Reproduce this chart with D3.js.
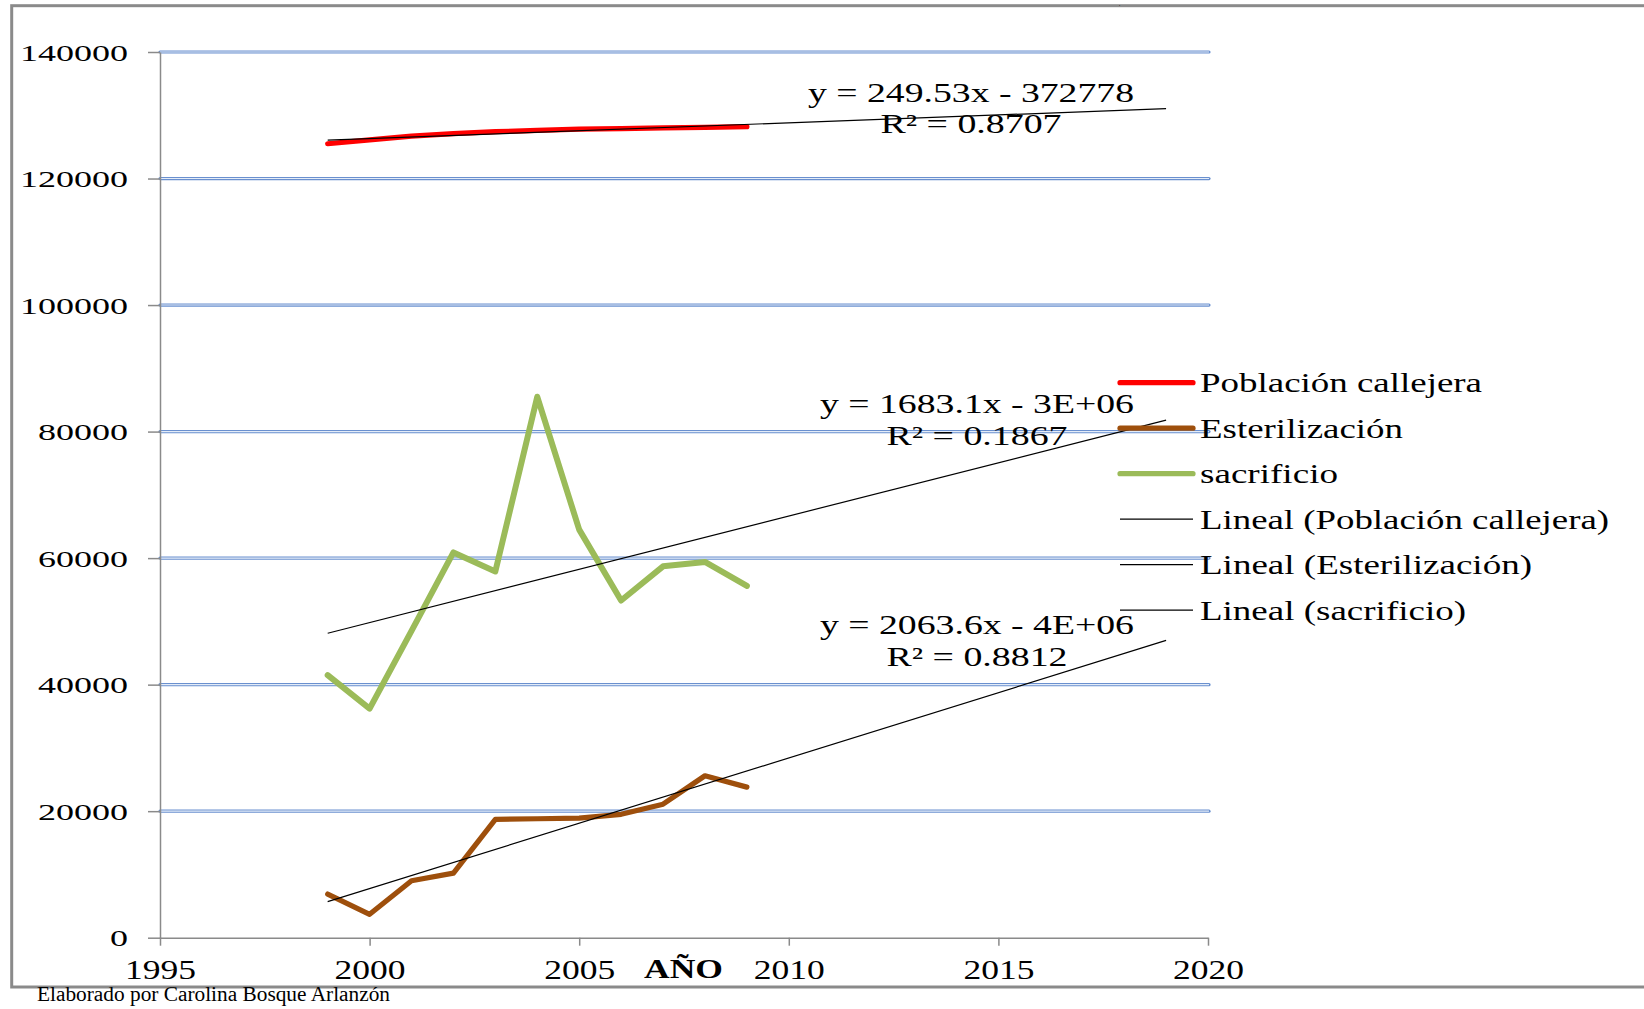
<!DOCTYPE html>
<html>
<head>
<meta charset="utf-8">
<script src="https://cdn.jsdelivr.net/npm/d3@7"></script>
<style>
  body { margin: 0; background: #fff; }
  svg { display: block; }
  text { font-family: "Liberation Serif", "DejaVu Serif", serif; fill: #000; }
</style>
</head>
<body>
<svg id="chart" width="1644" height="1009"></svg>
<script>
// data
const years = [1999, 2000, 2001, 2002, 2003, 2004, 2005, 2006, 2007, 2008, 2009]
const poblacion = [125500, 126100, 126700, 127100, 127400, 127600, 127800, 127900, 128000, 128100, 128200]
const esterilizacion = [6900, 3700, 9000, 10200, 18700, 18800, 18900, 19500, 21100, 25600, 23800]
const sacrificio = [41500, 36200, 48500, 60900, 57900, 85500, 64500, 53300, 58700, 59400, 55600]

const seriesNames = ["Población callejera", "Esterilización", "sacrificio"]
const seriesColors = ["#ff0000", "#9e4f0c", "#9bbb59"]
const trendNames = ["Lineal (Población callejera)", "Lineal (Esterilización)", "Lineal (sacrificio)"]
const trendEq = ["y = 249.53x - 372778", "y = 1683.1x - 3E+06", "y = 2063.6x - 4E+06"]
const trendR2 = ["R² = 0.8707", "R² = 0.1867", "R² = 0.8812"]

const yTicks = [0, 20000, 40000, 60000, 80000, 100000, 120000, 140000]
const xTicks = [1995, 2000, 2005, 2010, 2015, 2020]

const svg = d3.select("#chart")

// outer frame (right side runs off the picture)
svg.append("rect")
  .attr("x", 11.7).attr("y", 5.7)
  .attr("width", 2000).attr("height", 981.3)
  .attr("fill", "none").attr("stroke", "#8a8a8a").attr("stroke-width", 3)

svg.append("text").attr("x", 1119).attr("y", 5).attr("font-size", 5).text(",")

const x = d3.scaleLinear().domain([1995, 2020]).range([160, 1208])
const y = d3.scaleLinear().domain([0, 140000]).range([937.7, 52])

// gridlines, drawn as a double blue rule
const grid = svg.append("g")
grid.selectAll(".g1").data(yTicks.filter(d => d > 0)).enter().append("line")
  .attr("x1", x(1995)).attr("x2", x(2020) + 1)
  .attr("y1", d => y(d)).attr("y2", d => y(d))
  .attr("stroke", "#6a90cf").attr("stroke-width", 3.2).attr("stroke-linecap", "round")
grid.selectAll(".g2").data(yTicks.filter(d => d > 0)).enter().append("line")
  .attr("x1", x(1995)).attr("x2", x(2020) + 1)
  .attr("y1", d => y(d)).attr("y2", d => y(d))
  .attr("stroke", "#e4ecf8").attr("stroke-width", 1.1)

// axes
const yAxis = svg.append("g")
  .attr("transform", "translate(" + x(1995) + ",0)")
  .call(d3.axisLeft(y).tickValues(yTicks).tickSize(12).tickSizeOuter(0).tickPadding(20).tickFormat(d3.format("d")))
yAxis.select(".domain").attr("stroke", "#8a8a8a").attr("stroke-width", 1.5)
yAxis.selectAll(".tick line").attr("stroke", "#8a8a8a").attr("stroke-width", 1.5)
yAxis.selectAll(".tick text")
  .attr("font-family", "Liberation Serif").attr("font-size", 24).attr("fill", "#111")
  .attr("dy", "0.34em")
  .attr("textLength", d => String(d).length * 18).attr("lengthAdjust", "spacingAndGlyphs")

const xAxis = svg.append("g")
  .attr("transform", "translate(0," + y(0) + ")")
  .call(d3.axisBottom(x).tickValues(xTicks).tickSize(8).tickSizeOuter(0).tickPadding(13).tickFormat(d3.format("d")))
xAxis.select(".domain").attr("stroke", "#8a8a8a").attr("stroke-width", 1.5)
xAxis.selectAll(".tick line").attr("stroke", "#8a8a8a").attr("stroke-width", 1.5)
xAxis.selectAll(".tick text")
  .attr("font-family", "Liberation Serif").attr("font-size", 28).attr("fill", "#111")
  .attr("textLength", 71).attr("lengthAdjust", "spacingAndGlyphs")

svg.append("text")
  .attr("x", 683.5).attr("y", 978)
  .attr("text-anchor", "middle").attr("font-size", 28).attr("font-weight", "bold")
  .attr("textLength", 79).attr("lengthAdjust", "spacingAndGlyphs")
  .text("AÑO")

// series
const allSeries = [poblacion, esterilizacion, sacrificio]
const line = d3.line().x(d => x(d[0])).y(d => y(d[1]))

allSeries.forEach(function (vals, i) {
  svg.append("path")
    .datum(years.map((yr, j) => [yr, vals[j]]))
    .attr("d", line)
    .attr("fill", "none")
    .attr("stroke", seriesColors[i])
    .attr("stroke-width", i == 2 ? 6 : 5.2)
    .attr("stroke-linejoin", "round")
    .attr("stroke-linecap", "round")
})

// linear trendlines, forecast 10 periods ahead
function fit(vals) {
  const mx = d3.mean(years), my = d3.mean(vals)
  let sxy = 0, sxx = 0
  years.forEach((yr, j) => { sxy += (yr - mx) * (vals[j] - my); sxx += (yr - mx) * (yr - mx) })
  const b = sxy / sxx
  return t => my + b * (t - mx)
}
allSeries.forEach(function (vals) {
  const f = fit(vals)
  const x0 = years[0], x1 = years[years.length - 1] + 10
  svg.append("path")
    .datum([[x0, f(x0)], [x1, f(x1)]])
    .attr("d", line)
    .attr("fill", "none").attr("stroke", "#000").attr("stroke-width", 1.2)
})

// trend equations
const eqBase = [101.7, 413, 634]
const eqX = [971, 977, 977]
const eqWidth = [326, 314, 314]
trendEq.forEach(function (t, i) {
  svg.append("text")
    .attr("x", eqX[i]).attr("y", eqBase[i])
    .attr("text-anchor", "middle").attr("font-size", 27)
    .attr("textLength", eqWidth[i]).attr("lengthAdjust", "spacingAndGlyphs")
    .text(t)
  svg.append("text")
    .attr("x", i == 0 ? 971 : 977).attr("y", eqBase[i] + 31.5)
    .attr("text-anchor", "middle").attr("font-size", 27)
    .attr("textLength", 181).attr("lengthAdjust", "spacingAndGlyphs")
    .text(trendR2[i])
})

// legend
const legendNames = seriesNames.concat(trendNames)
const legendWidths = [282, 203, 138, 409, 332, 266]
const legend = svg.append("g")
legendNames.forEach(function (name, i) {
  const ly = 382.7 + i * 45.5
  const isTrend = i >= 3
  legend.append("line")
    .attr("x1", 1120).attr("x2", 1193)
    .attr("y1", ly).attr("y2", ly)
    .attr("stroke", isTrend ? "#000" : seriesColors[i])
    .attr("stroke-width", isTrend ? 1.2 : 5.2)
    .attr("stroke-linecap", isTrend ? "butt" : "round")
  legend.append("text")
    .attr("x", 1200).attr("y", ly + 9.5)
    .attr("font-size", 28)
    .attr("textLength", legendWidths[i]).attr("lengthAdjust", "spacingAndGlyphs")
    .text(name)
})

// source note
svg.append("text")
  .attr("x", 37).attr("y", 1001)
  .attr("font-size", 20)
  .attr("textLength", 353).attr("lengthAdjust", "spacingAndGlyphs")
  .text("Elaborado por Carolina Bosque Arlanzón")
</script>
</body>
</html>
